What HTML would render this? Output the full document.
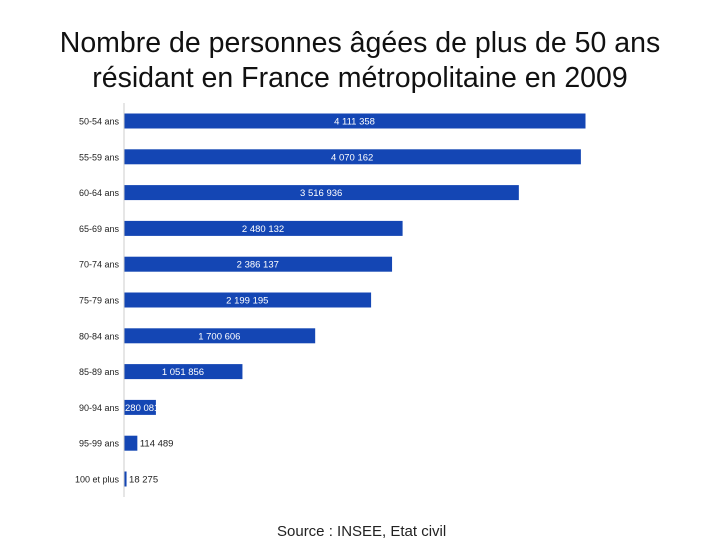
<!DOCTYPE html>
<html><head><meta charset="utf-8"><style>
body{margin:0;background:#fff;width:720px;height:540px;overflow:hidden;font-family:"Liberation Sans",sans-serif}
.t{position:absolute;left:0;width:720px;text-align:center;font-size:28.5px;color:#111;font-family:"Liberation Sans",sans-serif}
</style></head><body>
<div class="t" style="top:27px">Nombre de personnes âgées de plus de 50 ans</div>
<div class="t" style="top:62px">résidant en France métropolitaine en 2009</div>
<svg id="c" width="720" height="540" style="position:absolute;left:0;top:0">
<text x="277" y="536" font-size="15" fill="#222">Source : INSEE, Etat civil</text>
</svg>
<script>
const categories=["50-54 ans","55-59 ans","60-64 ans","65-69 ans","70-74 ans","75-79 ans","80-84 ans","85-89 ans","90-94 ans","95-99 ans","100 et plus"];
const values=[4111358,4070162,3516936,2480132,2386137,2199195,1700606,1051856,280081,114489,18275];
const valueLabels=["4 111 358","4 070 162","3 516 936","2 480 132","2 386 137","2 199 195","1 700 606","1 051 856","280 081","114 489","18 275"];
const svg=document.getElementById('c');const NS='http://www.w3.org/2000/svg';
const x0=124,scale=461/4111358,y0=121,step=35.8,bh=15;
const xs=v=>v*scale, ys=i=>y0+i*step;
function mk(t,a){const e=document.createElementNS(NS,t);for(const k in a)e.setAttribute(k,a[k]);svg.appendChild(e);return e;}
const ax=mk('line',{x1:x0,x2:x0,y1:103,y2:497,stroke:'#ccc','stroke-width':1});


categories.forEach((c,i)=>{
 const y=ys(i),w=Math.max(2,xs(values[i]));
 const b=mk('rect',{x:x0+0.5,y:y-bh/2,width:w,height:bh,fill:'#1446b4'});
 
 
 const l=mk('text',{x:x0-5,y:y+3.5,'font-size':9,'text-anchor':'end',fill:'#222'});l.textContent=c;
 
 
 let a;
 if(w>60)a={x:x0+w/2,'text-anchor':'middle',fill:'#fff'};
 else if(values[i]>200000)a={x:x0+1,'text-anchor':'start',fill:'#fff'};
 else a={x:x0+w+3,'text-anchor':'start',fill:'#222'};
 a.y=y+3.5;a['font-size']=9.5;
 const v=mk('text',a);v.textContent=valueLabels[i];
 
 
});
</script>
</body></html>
